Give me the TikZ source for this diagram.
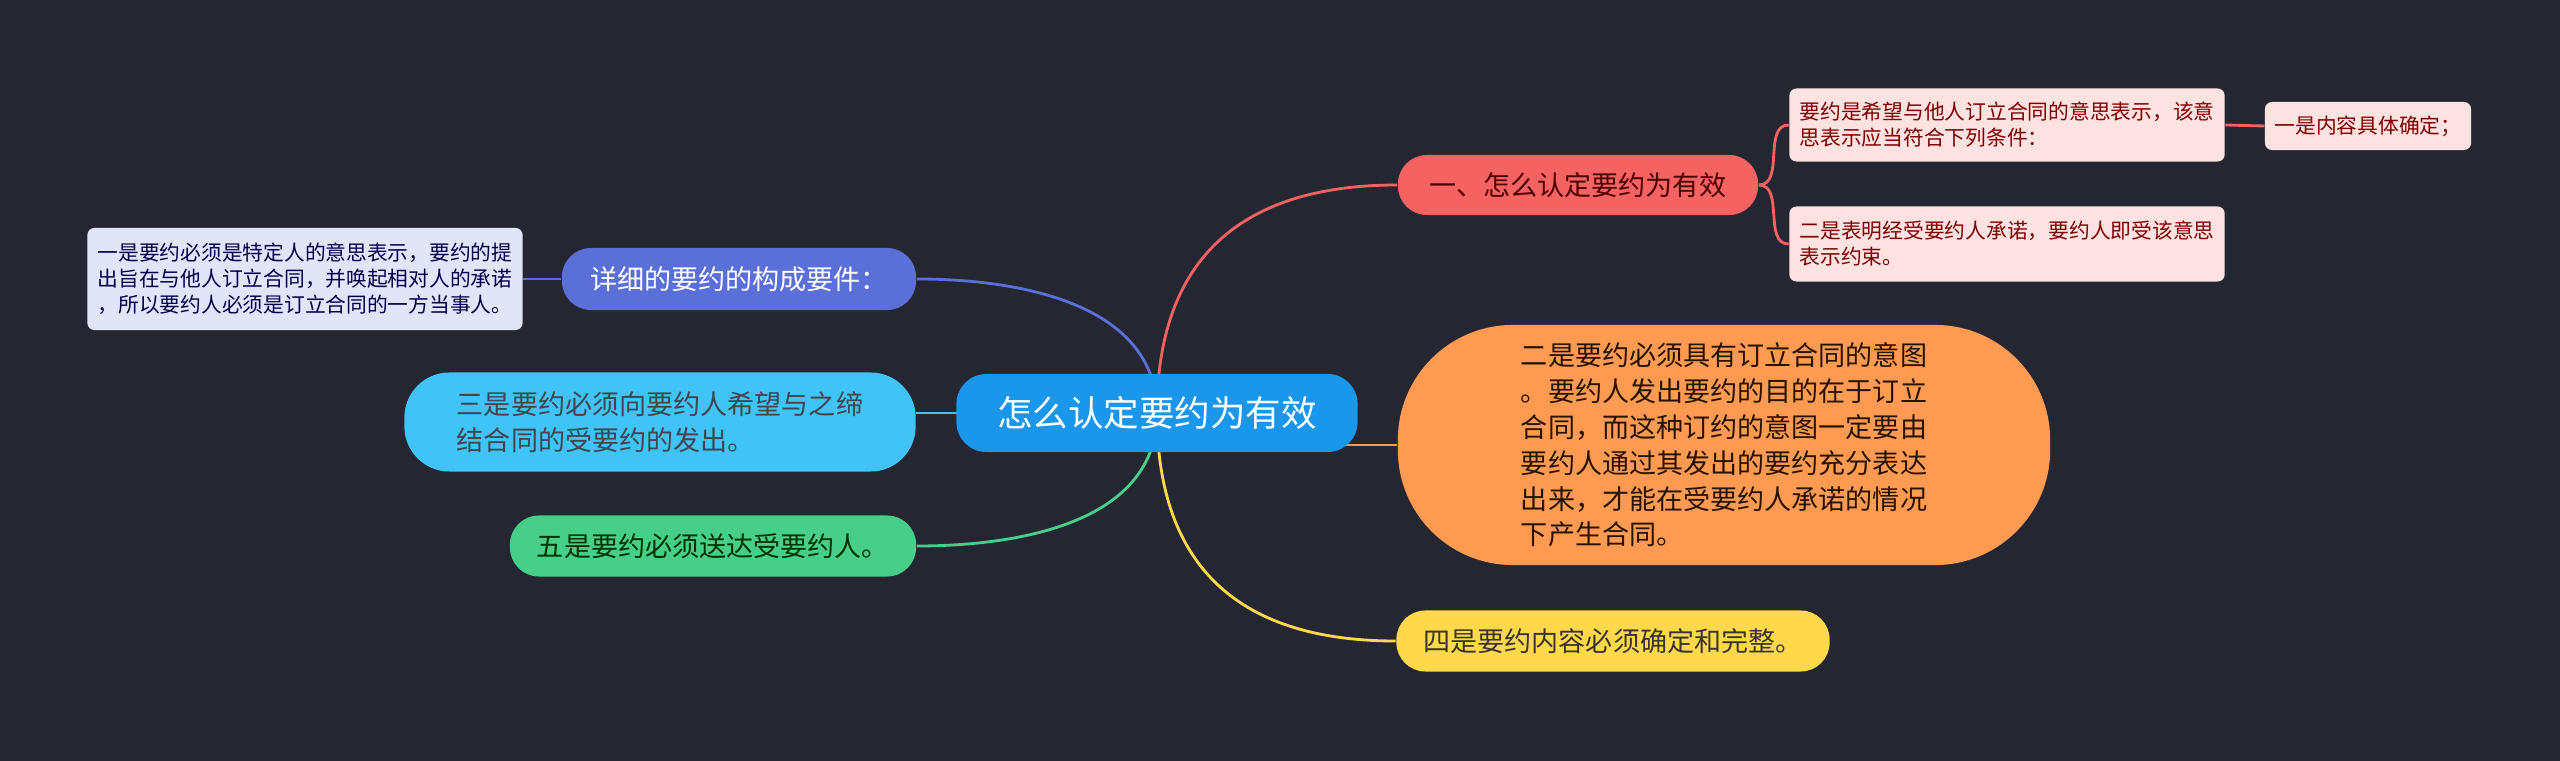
\documentclass[tikz,border=0pt]{standalone}
\usepackage{fontspec}
\setmainfont{Noto Sans CJK SC}

\pgfdeclarelayer{bg}
\pgfdeclarelayer{edges}
\pgfsetlayers{bg,edges,main}

\definecolor{bgcol}{HTML}{242732}
\definecolor{rootcol}{HTML}{1A96EA}
\definecolor{redcol}{HTML}{F46262}
\definecolor{pinkcol}{HTML}{FDE2E2}
\definecolor{orangecol}{HTML}{FF9A52}
\definecolor{yellowcol}{HTML}{FFD94A}
\definecolor{indigocol}{HTML}{5A6FD8}
\definecolor{lavcol}{HTML}{E1E5F8}
\definecolor{cyancol}{HTML}{40C3F7}
\definecolor{greencol}{HTML}{47CF8A}

\begin{document}
\begin{tikzpicture}[x=0.01cm, y=-0.01cm,
    topic/.style={rectangle, inner sep=0pt, align=left, font=\fontsize{7.7pt}{10.2pt}\selectfont}, % Nodos de primer nivel
    leaf/.style={rectangle, rounded corners=0.07cm, inner sep=0pt, align=left, font=\fontsize{5.9pt}{7.4pt}\selectfont}, % Cuadros pequenos
    edge/.style={line width=0.8pt}
  ]
  % Fondo
  \begin{pgfonlayer}{bg}
    \fill[bgcol] (0,0) rectangle (2560,761);
  \end{pgfonlayer}
  \useasboundingbox (0,0) rectangle (2560,761);

  % Root
  \node [topic, fill=rootcol, text=white, rounded corners=0.3cm, minimum width=4.01cm, minimum height=0.78cm,
    font=\fontsize{10.1pt}{12pt}\selectfont] (root) at (1157,413) {怎么认定要约为有效};

  % Rama roja
  \node [topic, fill=redcol, text=red!30!black, rounded corners=0.29cm, minimum width=3.6cm, minimum height=0.6cm] (first) at (1578,185) {一、怎么认定要约为有效};
  \node [leaf, fill=pinkcol, text=red!50!black, minimum width=4.35cm, minimum height=0.73cm] (cond) at (2007,125) {要约是希望与他人订立合同的意思表示，该意\\思表示应当符合下列条件：};
  \node [leaf, fill=pinkcol, text=red!50!black, minimum width=4.35cm, minimum height=0.75cm] (bind) at (2007,244) {二是表明经受要约人承诺，要约人即受该意思\\表示约束。};
  \node [leaf, fill=pinkcol, text=red!50!black, minimum width=2.06cm, minimum height=0.48cm] (exact) at (2368,126) {一是内容具体确定；};

  % Rama naranja
  \node [topic, fill=orangecol, text=black!85!orange, rounded corners=1.15cm, minimum width=6.52cm, minimum height=2.4cm] (intent) at (1724,445) {二是要约必须具有订立合同的意图\\。要约人发出要约的目的在于订立\\合同，而这种订约的意图一定要由\\要约人通过其发出的要约充分表达\\出来，才能在受要约人承诺的情况\\下产生合同。};

  % Rama amarilla
  \node [topic, fill=yellowcol, text=black!90!yellow, rounded corners=0.29cm, minimum width=4.33cm, minimum height=0.61cm] (complete) at (1613,641) {四是要约内容必须确定和完整。};

  % Rama azul
  \node [topic, fill=indigocol, text=white, rounded corners=0.29cm, minimum width=3.54cm, minimum height=0.62cm] (detail) at (739,279) {详细的要约的构成要件：};
  \node [leaf, fill=lavcol, text=blue!30!black, minimum width=4.35cm, minimum height=1.02cm] (specific) at (305,279) {一是要约必须是特定人的意思表示，要约的提\\出旨在与他人订立合同，并唤起相对人的承诺\\，所以要约人必须是订立合同的一方当事人。};

  % Rama celeste
  \node [topic, fill=cyancol, text=cyan!20!black, rounded corners=0.45cm, minimum width=5.11cm, minimum height=0.99cm] (offeree) at (660,422) {三是要约必须向要约人希望与之缔\\结合同的受要约的发出。};

  % Rama verde
  \node [topic, fill=greencol, text=green!20!black, rounded corners=0.29cm, minimum width=4.06cm, minimum height=0.61cm] (deliver) at (713,546) {五是要约必须送达受要约人。};

  % Conexiones
  \begin{pgfonlayer}{edges}
    \draw [edge, redcol] (root.center) to[out=90, in=180, looseness=1.2] (first.west);
    \draw [edge, redcol] (first.east) to[out=0, in=180] (cond.west);
    \draw [edge, redcol] (first.east) to[out=0, in=180] (bind.west);
    \draw [edge, redcol] (cond.east) -- (exact.west);
    \draw [edge, orangecol] (intent.west) -- (intent.west -| root.center);
    \draw [edge, yellowcol] (root.center) to[out=-90, in=180, looseness=1.2] (complete.west);
    \draw [edge, indigocol] (root.center) to[out=90, in=0] (detail.east);
    \draw [edge, indigocol] (detail.west) -- (specific.east);
    \draw [edge, cyancol] (root.center) -- (root.center -| offeree.east);
    \draw [edge, greencol] (root.center) to[out=-90, in=0] (deliver.east);
  \end{pgfonlayer}
\end{tikzpicture}
\end{document}
